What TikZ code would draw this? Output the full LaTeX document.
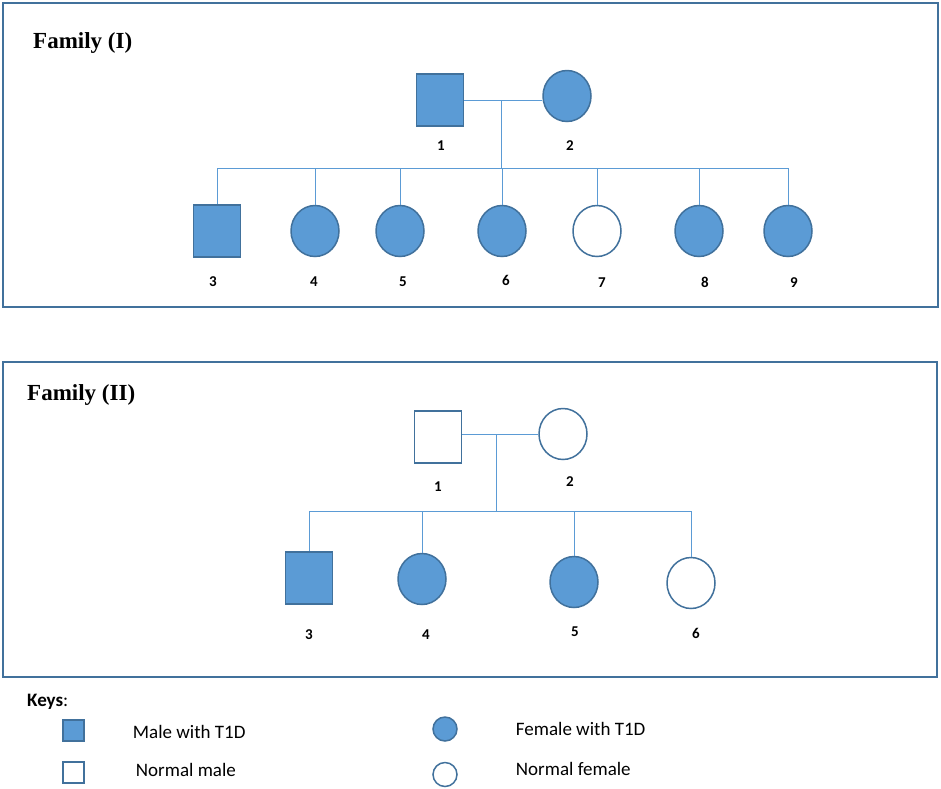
\documentclass[tikz,border=0pt]{standalone}
\usepackage{fontspec}
\setmainfont{Carlito}
\newfontfamily\titlefont{Liberation Serif}
\usetikzlibrary{positioning,shapes.geometric}
\definecolor{tdfill}{HTML}{5B9BD5}
\definecolor{tdedge}{HTML}{41719C}
\tikzset{
	male/.style={draw=tdedge,line width=1.5pt,rectangle,inner sep=0pt,
		minimum width=47pt,minimum height=52pt},
	female/.style={draw=tdedge,line width=1.5pt,ellipse,inner sep=0pt,
		minimum width=48pt,minimum height=51pt},
	t1d/.style={fill=tdfill},
	healthy/.style={fill=white},
	keymale/.style={male,minimum width=21pt,minimum height=21pt},
	keyfemale/.style={female,minimum width=24pt,minimum height=24pt},
	num/.style={font=\bfseries\fontsize{15}{17}\selectfont,inner sep=0pt},
	keytext/.style={anchor=west,inner sep=0pt,font=\fontsize{19}{22}\selectfont},
	famtitle/.style={anchor=west,inner sep=0pt,font=\titlefont\bfseries\fontsize{23}{26}\selectfont},
	link/.style={draw=tdfill,line width=1pt},
	famframe/.style={draw=tdedge,line width=2.5pt}
}
\begin{document}
\begin{tikzpicture}[x=1pt,y=-1pt]
\useasboundingbox (0,0) rectangle (941,788);

% Family (I)
\draw[famframe] (3,3) rectangle (938,307);
\node[famtitle] (titleI) at (33,43) {Family (I)};

\node[male,t1d] (I1) at (440,100) {};
\node[female,t1d] (I2) at (567,96) {};
\node[num] (nI1) at (441,146) {1};
\node[num] (nI2) at (570,146) {2};

\node[male,t1d] (I3) at (217,231) {};
\node[female,t1d] (I4) at (315,231) {};
\node[female,t1d] (I5) at (400,231) {};
\node[female,t1d] (I6) at (502,231) {};
\node[female,healthy] (I7) at (597,231) {};
\node[female,t1d] (I8) at (699,231) {};
\node[female,t1d] (I9) at (788,231) {};
\node[num] (nI3) at (213,282) {3};
\node[num] (nI4) at (314,282) {4};
\node[num] (nI5) at (403,282) {5};
\node[num] (nI6) at (506,280) {6};
\node[num] (nI7) at (602,283) {7};
\node[num] (nI8) at (705,282) {8};
\node[num] (nI9) at (794,283) {9};

\coordinate (mI) at (501,100);
\coordinate (sI) at (501,168);
\draw[link] (I1.east) -- (I1.east -| I2.west);
\draw[link] (mI) -- (sI);
\draw[link] (I3.north |- sI) -- (I9.north |- sI);
\foreach \c in {I3,I4,I5,I6,I7,I8,I9}
	\draw[link] (\c.north |- sI) -- (\c.north);

% Family (II)
\draw[famframe] (3,362) rectangle (937,677);
\node[famtitle] (titleII) at (27,395) {Family (II)};

\node[male,healthy] (II1) at (438,437) {};
\node[female,healthy] (II2) at (563,434) {};
\node[num] (nII1) at (438,487) {1};
\node[num] (nII2) at (570,482) {2};

\node[male,t1d] (II3) at (309,578) {};
\node[female,t1d] (II4) at (422,579) {};
\node[female,t1d] (II5) at (574,582) {};
\node[female,healthy] (II6) at (691,583) {};
\node[num] (nII3) at (309,635) {3};
\node[num] (nII4) at (426,635) {4};
\node[num] (nII5) at (575,632) {5};
\node[num] (nII6) at (696,633) {6};

\coordinate (mII) at (496,434);
\coordinate (sII) at (496,511);
\draw[link] (II1.east |- mII) -- (II2.west);
\draw[link] (mII) -- (sII);
\draw[link] (II3.north |- sII) -- (II6.north |- sII);
\foreach \c in {II3,II4,II5,II6}
	\draw[link] (\c.north |- sII) -- (\c.north);

% keys
\node[anchor=west,inner sep=0pt,font=\fontsize{19}{22}\selectfont] (keys) at (27,702) {\textbf{Keys}:};
\node[keymale,t1d] (kM) at (73.5,730.5) {};
\node[keymale,healthy] (kN) at (73.5,772.5) {};
\node[keyfemale,t1d] (kF) at (445,729) {};
\node[keyfemale,healthy] (kNF) at (445,774.5) {};
\node[keytext,right=48pt of kM,yshift=-1.5pt] (tM) {Male with T1D};
\node[keytext,right=51pt of kN,yshift=2.5pt] (tN) {Normal male};
\node[keytext,right=58pt of kF] (tF) {Female with T1D};
\node[keytext,right=58pt of kNF,yshift=5.5pt] (tNF) {Normal female};

\end{tikzpicture}
\end{document}
